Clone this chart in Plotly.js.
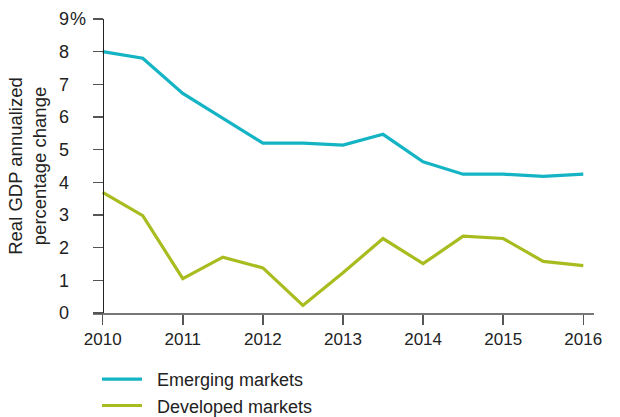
<!DOCTYPE html>
<html>
<head>
<meta charset="utf-8">
<script src="https://cdn.plot.ly/plotly-3.0.1.min.js"></script>
<style>html,body{margin:0;padding:0;background:#fff;}#chart{width:620px;height:417px;}</style>
</head>
<body>
<div id="chart"></div>
<script>
// Semi-annual observation dates
const periods = [2010, 2010.5, 2011, 2011.5, 2012, 2012.5, 2013, 2013.5, 2014, 2014.5, 2015, 2015.5, 2016];
const emergingMarkets = [8.0, 7.8, 6.72, 5.96, 5.2, 5.2, 5.14, 5.47, 4.63, 4.25, 4.25, 4.18, 4.25];
const developedMarkets = [3.69, 2.98, 1.05, 1.71, 1.38, 0.23, 1.23, 2.28, 1.51, 2.35, 2.28, 1.58, 1.45];
const xTickVals = [2010, 2011, 2012, 2013, 2014, 2015, 2016];
const xTickText = ['2010', '2011', '2012', '2013', '2014', '2015', '2016'];
const yTickVals = [0, 1, 2, 3, 4, 5, 6, 7, 8, 9];
const yTickText = ['0', '1', '2', '3', '4', '5', '6', '7', '8', '9'];
const yUnit = '%';
const seriesNames = ['Emerging markets', 'Developed markets'];

const FONT = 'Liberation Sans, Arial, sans-serif';
const PAD = '\u00a0\u00a0';
const traces = [
  {x: periods, y: emergingMarkets, name: PAD + seriesNames[0], type: 'scatter', mode: 'lines',
   line: {color: '#14B4C4', width: 3.2}},
  {x: periods, y: developedMarkets, name: PAD + seriesNames[1], type: 'scatter', mode: 'lines',
   line: {color: '#A9BC1F', width: 3.2}}
];

const layout = {
  width: 620, height: 417,
  margin: {l: 93, r: 26, t: 19, b: 103.5, pad: 0, autoexpand: false},
  paper_bgcolor: '#fff', plot_bgcolor: '#fff',
  font: {family: FONT, size: 17, color: '#222'},
  showlegend: true,
  legend: {x: 0.008, y: -0.163, xanchor: 'left', yanchor: 'top', orientation: 'v',
           font: {family: FONT, size: 18, color: '#222'}, itemwidth: 40,
           bgcolor: 'rgba(0,0,0,0)'},
  xaxis: {range: [2009.879, 2016.134], tickvals: xTickVals, ticktext: xTickText,
          showgrid: false, zeroline: false, showline: true, linecolor: '#777', linewidth: 2,
          ticks: 'outside', ticklen: 10, tickwidth: 1.5, tickcolor: '#555',
          tickfont: {family: FONT, size: 17, color: '#222'}, fixedrange: true, automargin: false},
  yaxis: {range: [0, 9], tickvals: yTickVals, ticktext: yTickText,
          anchor: 'free', position: 0.0194,
          showgrid: false, zeroline: false, showline: true, linecolor: '#222', linewidth: 1.5,
          ticks: 'outside', ticklen: 10, tickwidth: 1.5, tickcolor: '#555',
          ticklabelstandoff: 20, automargin: false,
          tickfont: {family: FONT, size: 18, color: '#222'},
          title: {text: 'Real GDP annualized<br>percentage change', font: {family: FONT, size: 18.5, color: '#222'}, standoff: 6},
          fixedrange: true},
  annotations: [
    {text: yUnit, xref: 'paper', yref: 'y', x: -0.048, y: yTickVals[yTickVals.length - 1],
     xanchor: 'left', yanchor: 'middle', showarrow: false, borderpad: 0,
     font: {family: FONT, size: 18, color: '#222'}}
  ]
};

Plotly.newPlot('chart', traces, layout, {displayModeBar: false, staticPlot: true});
</script>
</body>
</html>
